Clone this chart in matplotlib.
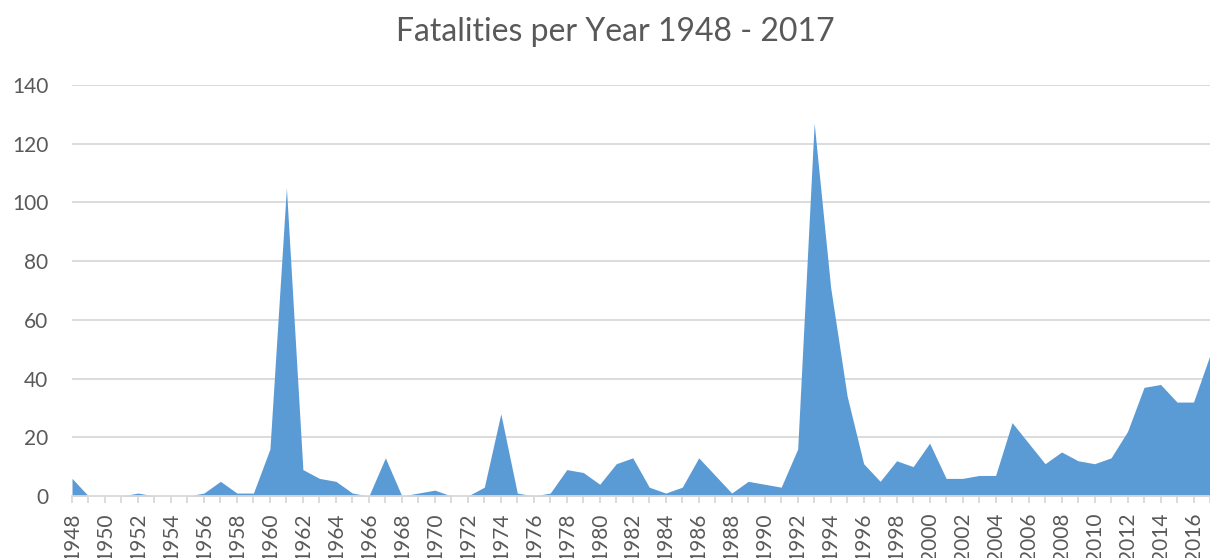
import matplotlib
matplotlib.use("Agg")
import matplotlib.pyplot as plt
import numpy as np

years = list(range(1948, 2018))
fatalities = [6, 0, 0, 0, 1, 0, 0, 0, 1, 5,
              1, 1, 16, 105, 9, 6, 5, 1, 0, 13,
              0, 1, 2, 0, 0, 3, 28, 1, 0, 1,
              9, 8, 4, 11, 13, 3, 1, 3, 13, 7,
              1, 5, 4, 3, 16, 127, 71, 34, 11, 5,
              12, 10, 18, 6, 6, 7, 7, 25, 18, 11,
              15, 12, 11, 13, 22, 37, 38, 32, 32, 48]
title = "Fatalities per Year 1948 - 2017"
y_ticks = [0, 20, 40, 60, 80, 100, 120, 140]

text_color = "#595959"
grid_color = "#D9D9D9"
fill_color = "#5B9BD5"

plt.rcParams['font.family'] = ['Lato', 'DejaVu Sans']

fig = plt.figure(figsize=(12.1, 5.58), dpi=100)
ax = fig.add_axes([72/1210, 1 - 496/558, 1 - 72/1210, (496 - 85)/558])

ax.fill_between(years, fatalities, 0, color=fill_color, linewidth=0, zorder=3)

ax.set_xlim(years[0], years[-1])
ax.set_ylim(0, 140)
ax.set_yticks(y_ticks)
ax.set_yticklabels([str(v) for v in y_ticks], fontsize=15, color=text_color)
for v in y_ticks[1:]:
    ax.axhline(v, color=grid_color, linewidth=1.3, zorder=1)

ax.set_xticks(years)
ax.set_xticklabels([str(y) if (y - 1948) % 2 == 0 else "" for y in years],
                   rotation=90, fontsize=15, color=text_color)

for s in ['top', 'right', 'left']:
    ax.spines[s].set_visible(False)
ax.spines['bottom'].set_color(grid_color)
ax.spines['bottom'].set_linewidth(1.3)
ax.spines['bottom'].set_zorder(4)

ax.tick_params(axis='y', length=0, pad=17)
ax.tick_params(axis='x', length=5, width=1.3, color=grid_color, pad=7, direction='out')

fig.text(615.5/1210, 1 - 32/558, title, ha='center', va='center', fontsize=23, color=text_color)

fig.savefig("out.png", dpi=100)
